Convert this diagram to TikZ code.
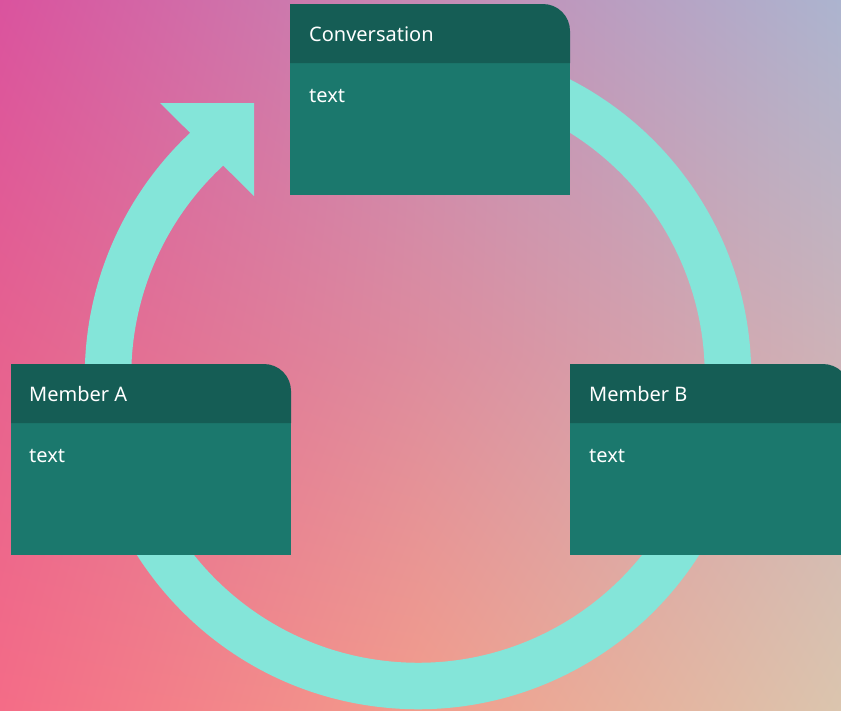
\documentclass[tikz,border=0pt]{standalone}
\usepackage{fontspec}
\usetikzlibrary{shadings}
\setmainfont{Noto Sans}
\definecolor{hdrc}{HTML}{155D55}
\definecolor{bdyc}{HTML}{1B786D}
\definecolor{ringc}{HTML}{84E5D9}
\definecolor{bgTL}{HTML}{DA539E}
\definecolor{bgTM}{HTML}{C68AB4}
\definecolor{bgTR}{HTML}{ACB4CF}
\definecolor{bgML}{HTML}{E6628F}
\definecolor{bgC}{HTML}{DD8C9E}
\definecolor{bgMR}{HTML}{CDB3B8}
\definecolor{bgBL}{HTML}{F46C87}
\definecolor{bgBM}{HTML}{F29D8C}
\definecolor{bgBR}{HTML}{DBC5AE}
\begin{document}
\begin{tikzpicture}[x=1pt,y=-1pt,
  cardtext/.style={anchor=base west, inner sep=0pt, text=white, font=\fontsize{20}{24}\selectfont},
  card/.pic={
    \fill[bdyc] (0,59) rectangle (280,191);
    \fill[hdrc] (0,59) -- (0,0) -- (253,0) arc[start angle=270, end angle=360, radius=27] -- (280,59) -- cycle;
  }]
\clip (0,0) rectangle (841,710);
% background (four bilinear patches)
\shade[upper left=bgTL, upper right=bgTM, lower left=bgML, lower right=bgC] (0,0) rectangle (421,356);
\shade[upper left=bgTM, upper right=bgTR, lower left=bgC, lower right=bgMR] (420,0) rectangle (841,356);
\shade[upper left=bgML, upper right=bgC, lower left=bgBL, lower right=bgBM] (0,355) rectangle (421,710);
\shade[upper left=bgC, upper right=bgMR, lower left=bgBM, lower right=bgBR] (420,355) rectangle (841,710);
% cycle ring with arrow head
\draw[ringc, line width=46.5] (418,376) ++(-85:310) arc[start angle=-85, end angle=228, radius=310];
\fill[ringc] (254,103) -- (160,103) -- (254,196) -- cycle;
% cards
\pic at (290,4) {card};
\pic at (11,364) {card};
\pic at (570,364) {card};
\node[cardtext] (convtitle) at (309,41) {Conversation};
\node[cardtext] (convtext) at (309,102) {text};
\node[cardtext] (atitle) at (29,401) {Member A};
\node[cardtext] (atext) at (29,462) {text};
\node[cardtext] (btitle) at (589,401) {Member B};
\node[cardtext] (btext) at (589,462) {text};
\end{tikzpicture}
\end{document}
